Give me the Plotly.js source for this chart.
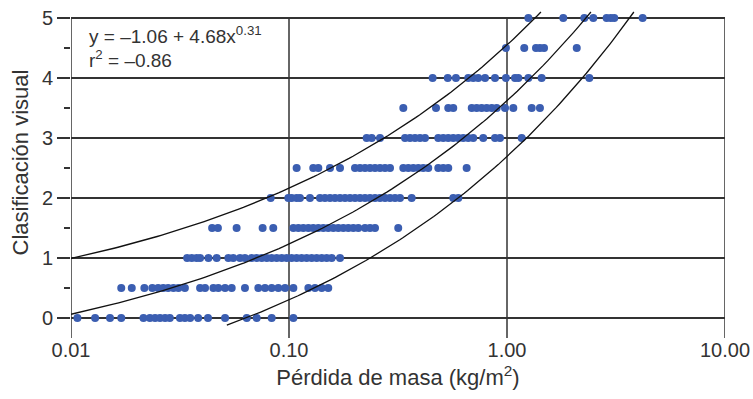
<!DOCTYPE html>
<html>
<head>
<meta charset="utf-8">
<script src="https://cdn.plot.ly/plotly-3.0.1.min.js"></script>
<style>html,body{margin:0;padding:0;background:#fff;}#chart{width:753px;height:399px;}</style>
</head>
<body>
<div id="chart"></div>
<script>
// Visual rating levels (y) and mass loss values (x, kg/m2)
const ratingLevels = [0, 0.5, 1, 1.5, 2, 2.5, 3, 3.5, 4, 4.5, 5];
const loss_r0  = [0.0107,0.0129,0.0151,0.0170,0.0215,0.0230,0.0243,0.0256,0.0270,0.0284,0.0316,0.0333,0.0352,0.0383,0.0425,0.0509,0.0640,0.0711,0.0833,0.1047];
const loss_r05 = [0.0170,0.0190,0.0217,0.0236,0.0251,0.0265,0.0279,0.0295,0.0311,0.0333,0.0391,0.0412,0.0450,0.0474,0.0509,0.0546,0.0628,0.0723,0.0776,0.0833,0.0893,0.0959,0.1047,0.1227,0.1316,0.1413,0.1514];
const loss_r1  = [0.0341,0.0358,0.0377,0.0391,0.0427,0.0466,0.0527,0.0555,0.0596,0.0628,0.0674,0.0711,0.0750,0.0791,0.0833,0.0878,0.0926,0.0976,0.1028,0.1084,0.1143,0.1205,0.1271,0.1340,0.1413,0.1489,0.1570,0.1714];
const loss_r15 = [0.0444,0.0472,0.0575,0.0757,0.0847,0.1047,0.1104,0.1163,0.1227,0.1292,0.1363,0.1437,0.1514,0.1597,0.1683,0.1775,0.1871,0.1972,0.2079,0.2232,0.2353,0.2480,0.317];
const loss_r2  = [0.0824,0.0993,0.1028,0.1084,0.1123,0.1248,0.1387,0.1462,0.1542,0.1625,0.1714,0.1807,0.1905,0.2008,0.2117,0.2232,0.2353,0.2480,0.2615,0.2757,0.2906,0.3064,0.3230,0.3654,0.567,0.598];
const loss_r25 = [0.1084,0.1292,0.1363,0.1542,0.1714,0.2008,0.2117,0.2232,0.2353,0.2480,0.2615,0.2757,0.2906,0.3345,0.3526,0.3717,0.3918,0.4130,0.4354,0.4839,0.5101,0.5377,0.653];
const loss_r3  = [0.2271,0.2395,0.2615,0.3406,0.3590,0.3784,0.3989,0.4205,0.4839,0.5101,0.5377,0.567,0.598,0.630,0.664,0.700,0.778,0.881,0.929,1.168];
const loss_r35 = [0.3345,0.4724,0.5377,0.567,0.689,0.726,0.765,0.807,0.851,0.897,0.979,1.069,1.298,1.416];
const loss_r4  = [0.456,0.535,0.583,0.664,0.700,0.738,0.793,0.881,0.989,1.088,1.127,1.253,1.442,2.386];
const loss_r45 = [0.989,1.200,1.358,1.416,1.479,2.089];
const loss_r5  = [1.253,1.812,2.263,2.488,2.864,2.992,3.105,4.19];

// Fitted model shown on the chart: y = -1.06 + 4.68 x^0.31, with band lines
const fitA = -1.06, fitB = 4.68, fitP = 0.31, bandHalf = 0.93;
const xTickVals = [0.01, 0.1, 1, 10];
const xTickText = ['0.01', '0.10', '1.00', '10.00'];
const yTickVals = [0, 1, 2, 3, 4, 5];

const lossByLevel = [loss_r0, loss_r05, loss_r1, loss_r15, loss_r2, loss_r25, loss_r3, loss_r35, loss_r4, loss_r45, loss_r5];
const px = [], py = [];
lossByLevel.forEach((arr, i) => arr.forEach(v => { px.push(v); py.push(ratingLevels[i]); }));

function curve(offset, yLo, yHi) {
  const xAt = y => Math.pow((y - offset - fitA) / fitB, 1 / fitP);
  const x0 = Math.max(0.01, xAt(yLo)), x1 = xAt(yHi);
  const xs = [], ys = [];
  const n = 120;
  for (let i = 0; i <= n; i++) {
    const lx = Math.log10(x0) + (Math.log10(x1) - Math.log10(x0)) * i / n;
    const x = Math.pow(10, lx);
    xs.push(x); ys.push(fitA + offset + fitB * Math.pow(x, fitP));
  }
  return {xs, ys};
}
const cU = curve(bandHalf, 0, 5.1), cM = curve(0, 0, 5.1), cL = curve(-bandHalf, -0.12, 5.1);
const lineStyle = {color: '#111', width: 1.3};

const traces = [
  {x: px, y: py, type: 'scatter', mode: 'markers', marker: {color: '#3B5EB1', size: 8}, cliponaxis: false, hoverinfo: 'x+y'},
  {x: cU.xs, y: cU.ys, type: 'scatter', mode: 'lines', line: lineStyle, hoverinfo: 'skip'},
  {x: cM.xs, y: cM.ys, type: 'scatter', mode: 'lines', line: lineStyle, hoverinfo: 'skip'},
  {x: cL.xs, y: cL.ys, type: 'scatter', mode: 'lines', line: lineStyle, hoverinfo: 'skip'}
];

const gridC = '#333';
const yBottom = -0.233, yTop = 5.2;
const plotH = 326;
const topPaper = (5 - yBottom) / (yTop - yBottom);
const tickPaper = -6 / plotH;
const shapes = xTickVals.map(v => ({type: 'line', xref: 'x', yref: 'paper', x0: v, x1: v, y0: tickPaper, y1: topPaper, line: {color: gridC, width: 1.5}, layer: 'below'}));

const font = {family: 'Liberation Sans, Arial, sans-serif', color: '#333'};

const layout = {
  width: 753, height: 399,
  margin: {l: 71, r: 28, t: 6, b: 67},
  paper_bgcolor: '#fff', plot_bgcolor: '#fff',
  showlegend: false,
  font: Object.assign({size: 20}, font),
  xaxis: {
    type: 'log', range: [-2, 1],
    tickvals: xTickVals, ticktext: xTickText,
    ticks: '', showgrid: false, zeroline: false, showline: false,
    ticklabelstandoff: 4,
    tickfont: Object.assign({size: 20}, font),
    title: {text: 'Pérdida de masa (kg/m<sup>2</sup>)', font: Object.assign({size: 22}, font), standoff: 9}
  },
  yaxis: {
    range: [yBottom, yTop],
    tickvals: yTickVals,
    ticks: 'outside', ticklen: 13, tickcolor: gridC, tickwidth: 1.5,
    minor: {dtick: 0.5, ticks: 'outside', ticklen: 6, tickcolor: gridC, tickwidth: 1.5, showgrid: false},
    showgrid: true, gridcolor: gridC, gridwidth: 1.5,
    zeroline: false, showline: false,
    tickfont: Object.assign({size: 20}, font)
  },
  shapes: shapes,
  annotations: [
    {xref: 'paper', yref: 'paper', x: -0.0765, y: 0.52, xanchor: 'center', yanchor: 'middle', textangle: -90, showarrow: false,
     text: 'Clasificación visual', font: Object.assign({size: 22}, font)},
    {xref: 'paper', yref: 'y', x: 0.024, y: 4.71, xanchor: 'left', yanchor: 'middle', showarrow: false,
     text: 'y = –1.06 + 4.68x<sup>0.31</sup>', font: Object.assign({size: 19}, font)},
    {xref: 'paper', yref: 'y', x: 0.024, y: 4.32, xanchor: 'left', yanchor: 'middle', showarrow: false,
     text: 'r<sup>2</sup> = –0.86', font: Object.assign({size: 19}, font)}
  ]
};

Plotly.newPlot('chart', traces, layout, {displayModeBar: false, staticPlot: true});
</script>
</body>
</html>
